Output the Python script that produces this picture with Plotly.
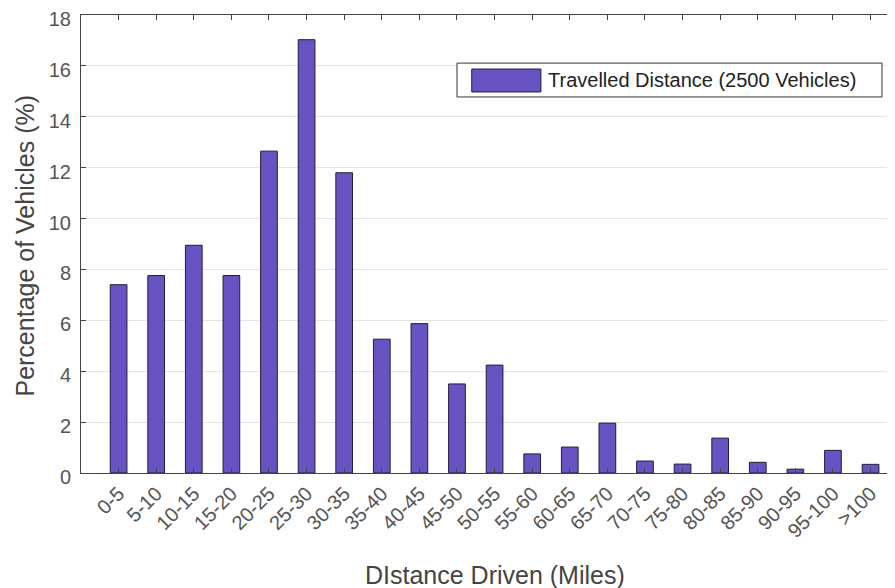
import plotly.graph_objects as go

categories = ["0-5", "5-10", "10-15", "15-20", "20-25", "25-30", "30-35", "35-40",
              "40-45", "45-50", "50-55", "55-60", "60-65", "65-70", "70-75", "75-80",
              "80-85", "85-90", "90-95", "95-100", ">100"]
percent = [7.40, 7.76, 8.95, 7.76, 12.65, 17.03, 11.80, 5.26, 5.87, 3.50, 4.24,
           0.75, 1.02, 1.96, 0.47, 0.35, 1.37, 0.42, 0.15, 0.89, 0.34]
y_ticks = [0, 2, 4, 6, 8, 10, 12, 14, 16, 18]
series_name = "Travelled Distance (2500 Vehicles)"
x_title = "DIstance Driven (Miles)"
y_title = "Percentage of Vehicles (%)"

FONT = "Liberation Sans, Arial, Helvetica, sans-serif"
BAR_COLOR = "#6953C2"
EDGE_COLOR = "#1e1e3c"

fig = go.Figure()
fig.add_trace(go.Bar(
    x=categories, y=percent, name=series_name,
    marker=dict(color=BAR_COLOR, line=dict(color=EDGE_COLOR, width=1)),
    showlegend=False,
))

# legend drawn as a box (MATLAB style wide swatch)
fig.add_shape(type="rect", xref="paper", yref="paper",
              x0=0.4619, x1=0.984, y0=0.821, y1=0.895,
              line=dict(color="#333333", width=1), fillcolor="white", layer="above")
fig.add_shape(type="rect", xref="paper", yref="paper",
              x0=0.480, x1=0.565, y0=0.832, y1=0.882,
              line=dict(color=EDGE_COLOR, width=1), fillcolor=BAR_COLOR, layer="above")
fig.add_annotation(xref="paper", yref="paper", x=0.571, y=0.858,
                   xanchor="left", yanchor="middle", showarrow=False,
                   text=series_name, font=dict(family=FONT, size=20, color="#222222"))

# axis titles
fig.add_annotation(xref="paper", yref="paper", x=0.508, y=-0.2227,
                   xanchor="center", yanchor="middle", showarrow=False,
                   text=x_title, font=dict(family=FONT, size=25, color="#444444"))
fig.add_annotation(xref="paper", yref="paper", x=-0.070, y=0.4967,
                   xanchor="center", yanchor="middle", showarrow=False, textangle=-90,
                   text=y_title, font=dict(family=FONT, size=25, color="#444444"))

# page body adds an 8px offset, so the figure is 8px smaller than the window
fig.update_layout(
    width=887, height=580,
    margin=dict(l=73, r=0, t=7, b=115),
    plot_bgcolor="white", paper_bgcolor="white",
    bargap=0.556,
    font=dict(family=FONT, color="#555555"),
    showlegend=False,
    xaxis=dict(
        range=[-1, 20.65], automargin=False,
        tickangle=-45, tickfont=dict(size=20, color="#555555"),
        ticks="inside", ticklen=5, tickcolor="#444444",
        showline=True, linecolor="#444444", linewidth=1, mirror="ticks",
        showgrid=False, zeroline=False, ticklabeloverflow="allow",
    ),
    yaxis=dict(
        range=[0, 18], tickvals=y_ticks, automargin=False,
        tickfont=dict(size=20, color="#555555"), ticklabelstandoff=5,
        ticklabeloverflow="allow", ticklabelshift=4,
        ticks="inside", ticklen=5, tickcolor="#444444",
        showline=True, linecolor="#444444", linewidth=1, mirror="ticks",
        showgrid=True, gridcolor="#e4e4e4", gridwidth=1, zeroline=False,
    ),
)

fig.write_html("out.html")
